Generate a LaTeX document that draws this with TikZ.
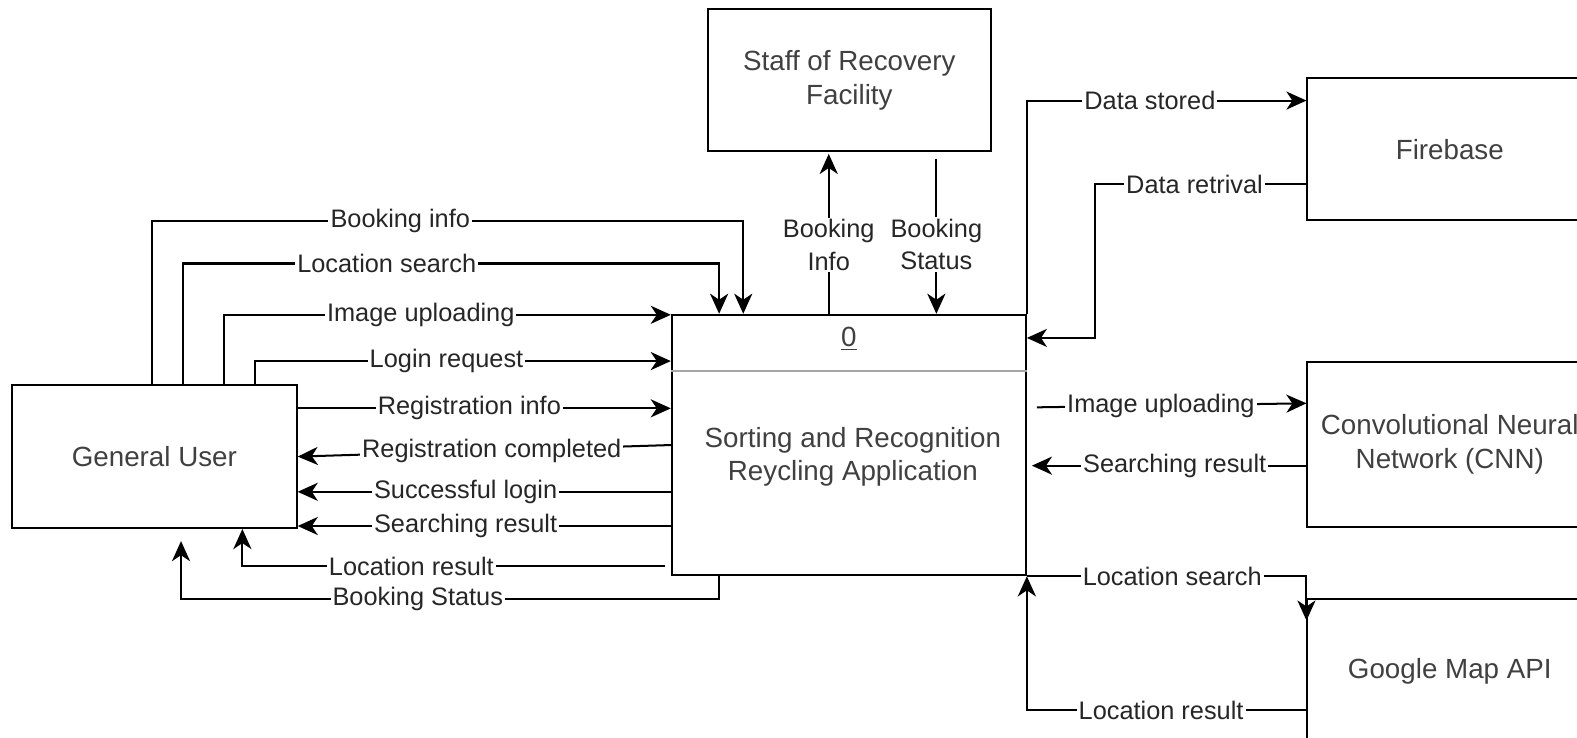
\documentclass[tikz,border=0pt]{standalone}
\usepackage{fontspec}
\setmainfont{Liberation Sans}
\usetikzlibrary{positioning,arrows.meta,calc}
\tikzset{
    block/.style = {
        draw,
        shape=rectangle,
        line width=1pt,
        inner sep=2pt,
        align=center,
        text=black!75,
        font=\fontsize{13.8}{17}\selectfont
    },
    boxtext/.style = {
        inner sep=1pt,
        align=center,
        text=black!75,
        font=\fontsize{13.8}{16.5}\selectfont
    },
    flow/.style = {
        fill=white,
        inner sep=1pt,
        align=center,
        text=black!85,
        font=\fontsize{12.6}{16}\selectfont
    },
    flowtip/.tip = {Stealth[length=10pt,width=9pt,inset=3pt]},
    >=flowtip,
}

\begin{document}
\begin{tikzpicture}[x=0.5pt, y=-0.5pt, line width=1pt]
                \clip (0,0) rectangle (1568,733);
                \node[block, minimum width=141.5pt, minimum height=71pt] (gu) at (153.5,454) {General User};
                \node[block, minimum width=176pt, minimum height=129.5pt] (app) at (844,442.5) {};
                \node[boxtext] (appno) at ($(app.north)+(0,25)$) {\underline{0}};
                \node[boxtext] (appname) at ($(app.center)+(4,12)$) {Sorting and Recognition\\Reycling Application};
                \node[block, minimum width=140.5pt, minimum height=70.5pt] (staff) at (844.5,79.5) {Staff of Recovery\\Facility};
                \node[block, minimum width=141.5pt, minimum height=70.5pt] (fb) at (1441.5,148.5) {Firebase};
                \node[block, minimum width=141.5pt, minimum height=82pt] (cnn) at (1441.5,442) {Convolutional Neural\\Network (CNN)};
                \node[block, minimum width=141.5pt, minimum height=71pt] (gmap) at (1441.5,667) {Google Map API};
                \path[draw, black!35, line width=0.8pt] ($(app.north west)+(0,57)$) -- ($(app.north east)+(0,57)$);

                % general user <-> application
                \path[draw, -{flowtip}] ($(gu.north west)+(140,0)$) -- ++(0,-162) -| node[flow, pos=.21] {Booking info} ($(app.north west)+(72,0)$);
                \path[draw, -{flowtip}] ($(gu.north west)+(171,0)$) -- ++(0,-120) -| node[flow, pos=.19] {Location search} ($(app.north west)+(48,0)$);
                \path[draw, -{flowtip}] ($(gu.north west)+(212,0)$) |- node[flow, pos=.72] {Image uploading} ($(app.north west)+(0,1)$);
                \path[draw, -{flowtip}] ($(gu.north west)+(243,0)$) |- node[flow, pos=.73] {Login request} ($(app.north west)+(0,47)$);
                \path[draw, -{flowtip}] ($(gu.north east)+(0,24)$) -- node[flow, pos=.46] {Registration info} ($(app.north west)+(0,94)$);
                \path[draw, -{flowtip}] (app.west) -- node[flow, pos=.48] {Registration completed} (gu.east);
                \path[draw, -{flowtip}] ($(app.north west)+(0,177)$) -- node[flow, pos=.55] {Successful login} ($(gu.north east)+(0,107)$);
                \path[draw, -{flowtip}] ($(app.north west)+(0,211)$) -- node[flow, pos=.55] {Searching result} ($(gu.north east)+(0,141)$);
                \path[draw, -{flowtip}] ($(app.south west)+(-6,-10)$) -| node[flow, pos=.3] {Location result} ($(gu.south west)+(230,0)$);
                \path[draw, -{flowtip}] ($(app.south west)+(48,0)$) -- ++(0,23) -| node[flow, pos=.28] {Booking Status} ($(gu.south west)+(169,12)$);

                % staff <-> application
                \path[draw, -{flowtip}] ($(app.north west)+(157,0)$) -- node[flow, pos=.43] {Booking\\Info} ($(staff.south west)+(121,2)$);
                \path[draw, -{flowtip}] ($(staff.south west)+(228,7)$) -- node[flow, pos=.55] {Booking\\Status} ($(app.north west)+(264,0)$);

                % application <-> services
                \path[draw, -{flowtip}] (app.north east) |- node[flow, pos=.72] {Data stored} ($(fb.north west)+(0,23)$);
                \path[draw, -{flowtip}] ($(fb.north west)+(0,106)$) -- node[flow, pos=.53] {Data retrival} ++(-210,0) |- ($(app.north east)+(0,24)$);
                \path[draw, -{flowtip}] ($(app.north east)+(10,93)$) -- node[flow, pos=.46] {Image uploading} ($(cnn.north west)+(0,42)$);
                \path[draw, -{flowtip}] ($(cnn.north west)+(0,104)$) -- node[flow, pos=.48] {Searching result} ($(app.north east)+(5,151)$);
                \path[draw, -{flowtip}] (app.south east) -| node[flow, pos=.26] {Location search} ($(gmap.north west)+(0,22)$);
                \path[draw, -{flowtip}] ($(gmap.north west)+(0,111)$) -| node[flow, pos=.26] {Location result} (app.south east);
            \end{tikzpicture}
\end{document}
